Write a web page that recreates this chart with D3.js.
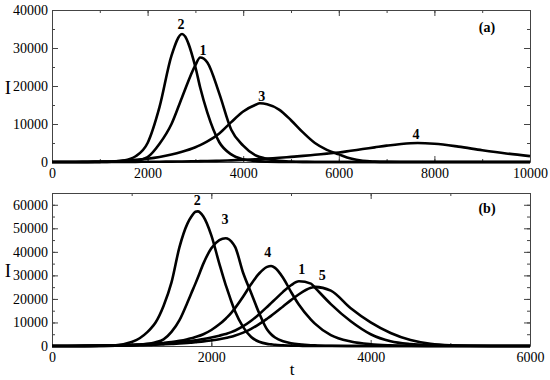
<!DOCTYPE html>
<html>
<head>
<meta charset="utf-8">
<script src="https://cdn.jsdelivr.net/npm/d3@7"></script>
<style>
  body { margin: 0; background: #fff; }
  .frame path.domain { stroke: #444; }
  .tick line { stroke: #444; }
</style>
</head>
<body>
<div id="chart"></div>
<script>
const serif = "Liberation Serif";

// panel (a): time samples and curves
const tA = [0, 250, 500, 750, 1000, 1250, 1500, 1750, 2000, 2250, 2500, 2720, 3000, 3100, 3250, 3500, 3750, 4000, 4250, 4350, 4500, 4750, 5000, 5250, 5500, 5750, 6000, 6250, 6500, 6750, 7000, 7500, 7650, 8000, 8500, 9000, 9500, 10000];
const a1 = [0, 0, 5, 12, 30, 60, 130, 350, 1300, 4800, 10000, 17000, 25500, 27500, 26200, 18000, 8500, 4300, 1800, 1300, 800, 300, 120, 40, 10, 0, 0, 0, 0, 0, 0, 0, 0, 0, 0, 0, 0, 0];
const a2 = [0, 0, 5, 15, 40, 120, 400, 1500, 5000, 14500, 28000, 33700, 25000, 19600, 13000, 5200, 2000, 700, 250, 170, 100, 30, 10, 0, 0, 0, 0, 0, 0, 0, 0, 0, 0, 0, 0, 0, 0, 0];
const a3 = [0, 5, 15, 40, 80, 150, 350, 550, 850, 1300, 1950, 2700, 3900, 4450, 5400, 7500, 10500, 13300, 15000, 15450, 15200, 13800, 11000, 7800, 5000, 3200, 2000, 900, 300, 100, 30, 0, 0, 0, 0, 0, 0, 0];
const a4 = [0, 0, 0, 5, 10, 15, 25, 40, 60, 80, 110, 140, 200, 230, 260, 330, 430, 550, 700, 760, 900, 1100, 1350, 1600, 1900, 2200, 2500, 2950, 3400, 3850, 4300, 4950, 5000, 4800, 4050, 3100, 2250, 1550];
const seriesA = [a1, a2, a3, a4];
const labelsA = [
  { name: "2", t: 2700, v: 36300 },
  { name: "1", t: 3160, v: 29500 },
  { name: "3", t: 4390, v: 17400 },
  { name: "4", t: 7615, v: 7400 }
];

// panel (b)
const tB = [0, 200, 400, 600, 800, 1000, 1100, 1200, 1250, 1300, 1400, 1500, 1600, 1700, 1750, 1800, 1830, 1900, 2000, 2100, 2180, 2200, 2250, 2300, 2400, 2500, 2600, 2700, 2750, 2800, 2900, 3000, 3100, 3250, 3300, 3500, 3750, 4000, 4250, 4500, 4750, 5000, 5500, 6000];
const b1 = [0, 15, 40, 90, 180, 420, 540, 680, 760, 850, 1050, 1300, 1600, 1950, 2150, 2400, 2550, 2950, 3600, 4400, 5100, 5300, 5900, 6600, 8400, 10700, 13500, 16600, 18200, 19800, 23000, 25800, 27500, 26500, 24800, 17800, 10500, 5000, 2000, 800, 300, 100, 0, 0];
const b2 = [0, 10, 40, 120, 350, 1700, 3300, 6000, 7800, 10000, 17000, 27000, 42000, 52000, 55000, 57000, 57200, 55000, 47000, 35000, 26000, 24000, 19000, 14500, 8000, 3800, 1800, 900, 700, 500, 300, 150, 80, 30, 20, 0, 0, 0, 0, 0, 0, 0, 0, 0];
const b3 = [0, 5, 20, 60, 120, 300, 500, 900, 1200, 1600, 2800, 6000, 11000, 18500, 22500, 26500, 29000, 35000, 41500, 45000, 45800, 45700, 44500, 42000, 31000, 22500, 14000, 7000, 5000, 3600, 2000, 1200, 700, 300, 250, 80, 20, 0, 0, 0, 0, 0, 0, 0];
const b4 = [0, 20, 60, 150, 300, 500, 650, 820, 920, 1030, 1300, 1650, 2200, 2900, 3300, 3800, 4100, 5000, 6800, 9200, 11600, 12250, 14100, 16200, 21000, 26300, 30800, 33600, 34000, 33200, 29000, 23000, 17500, 11200, 9500, 4600, 1900, 750, 300, 100, 40, 10, 0, 0];
const b5 = [0, 10, 30, 70, 140, 250, 330, 420, 480, 540, 680, 850, 1050, 1300, 1450, 1600, 1700, 1950, 2400, 2900, 3400, 3550, 3950, 4450, 5700, 7300, 9300, 11600, 12800, 14100, 16800, 19500, 22000, 24700, 25100, 23500, 16000, 10000, 5500, 2500, 900, 300, 30, 0];
const seriesB = [b1, b2, b3, b4, b5];
const labelsB = [
  { name: "2", t: 1824, v: 61800 },
  { name: "3", t: 2171, v: 54000 },
  { name: "4", t: 2707, v: 39700 },
  { name: "1", t: 3134, v: 32600 },
  { name: "5", t: 3393, v: 30200 }
];

const width = 550, height = 380;
const left = 52, right = 530;

const svg = d3.select("#chart")
  .append("svg")
  .attr("width", width)
  .attr("height", height)
  .attr("font-family", serif);

function drawPanel(cfg) {
  const innerW = right - left;
  const innerH = cfg.bottom - cfg.top;
  const g = svg.append("g")
    .attr("transform", `translate(${left},${cfg.top})`);

  const x = d3.scaleLinear().domain([0, cfg.xMax]).range([0, innerW]);
  const y = d3.scaleLinear().domain([0, cfg.yMax]).range([innerH, 0]);

  // minor ticks (inward) on all four sides
  const xMinor = d3.range(0, cfg.xMax + 1, cfg.xMinor);
  const yMinor = d3.range(0, cfg.yMax + 1, cfg.yMinor);
  g.append("g").attr("transform", `translate(0,${innerH})`)
    .call(d3.axisBottom(x).tickValues(xMinor).tickSize(-3).tickFormat(""))
    .call(s => s.select(".domain").remove());
  g.append("g")
    .call(d3.axisTop(x).tickValues(xMinor).tickSize(-3).tickFormat(""))
    .call(s => s.select(".domain").remove());
  g.append("g")
    .call(d3.axisLeft(y).tickValues(yMinor).tickSize(-3).tickFormat(""))
    .call(s => s.select(".domain").remove());
  g.append("g").attr("transform", `translate(${innerW},0)`)
    .call(d3.axisRight(y).tickValues(yMinor).tickSize(-3).tickFormat(""))
    .call(s => s.select(".domain").remove());

  // major ticks with labels
  const xMajor = d3.range(0, cfg.xMax + 1, cfg.xStep);
  const yMajor = d3.range(0, cfg.yMax + 1, cfg.yStep);
  g.append("g").attr("class", "frame")
    .attr("transform", `translate(0,${innerH})`)
    .call(d3.axisBottom(x).tickValues(xMajor).tickSizeInner(-6).tickSizeOuter(0).tickPadding(6).tickFormat(d3.format("d")));
  g.append("g").attr("class", "frame")
    .call(d3.axisTop(x).tickValues(xMajor).tickSizeInner(-6).tickSizeOuter(0).tickFormat(""));
  g.append("g").attr("class", "frame")
    .call(d3.axisLeft(y).tickValues(yMajor).tickSizeInner(-6).tickSizeOuter(0).tickPadding(4).tickFormat(d3.format("d")));
  g.append("g").attr("class", "frame")
    .attr("transform", `translate(${innerW},0)`)
    .call(d3.axisRight(y).tickValues(yMajor).tickSizeInner(-6).tickSizeOuter(0).tickFormat(""));

  // serif tick labels like the original
  g.selectAll("g")
    .attr("font-family", null)
    .attr("font-size", null);
  g.selectAll(".tick text")
    .attr("fill", "#000")
    .attr("font-family", serif)
    .attr("font-size", 14);

  // curves
  const line = d3.line()
    .x((d, i) => x(cfg.t[i]))
    .y(d => y(d))
    .curve(d3.curveMonotoneX);

  g.selectAll("path.curve")
    .data(cfg.series)
    .join("path")
      .attr("class", "curve")
      .attr("d", line)
      .attr("fill", "none")
      .attr("stroke", "#000")
      .attr("stroke-width", 2.6);

  // curve numbers
  g.selectAll("text.num")
    .data(cfg.labels)
    .join("text")
      .attr("class", "num")
      .attr("x", d => x(d.t))
      .attr("y", d => y(d.v))
      .attr("dy", "0.35em")
      .attr("text-anchor", "middle")
      .attr("font-weight", "bold")
      .attr("font-size", 14)
      .text(d => d.name);

  // panel tag
  g.append("text")
    .attr("x", innerW - 43)
    .attr("y", cfg.tagY)
    .attr("dy", "0.35em")
    .attr("text-anchor", "middle")
    .attr("font-weight", "bold")
    .attr("font-size", 14)
    .text(cfg.tag);

  // y-axis label
  svg.append("text")
    .attr("x", 8)
    .attr("y", cfg.top + cfg.labelY)
    .attr("dy", "0.35em")
    .attr("text-anchor", "middle")
    .attr("font-size", 19)
    .text("I");
}

drawPanel({
  top: 10, bottom: 162,
  t: tA, series: seriesA, labels: labelsA,
  xMax: 10000, xStep: 2000, xMinor: 1000,
  yMax: 40000, yStep: 10000, yMinor: 5000,
  tag: "(a)", tagY: 17, labelY: 77
});

drawPanel({
  top: 193, bottom: 346,
  t: tB, series: seriesB, labels: labelsB,
  xMax: 6000, xStep: 2000, xMinor: 1000,
  yMax: 65000, yStep: 10000, yMinor: 5000,
  tag: "(b)", tagY: 15, labelY: 77
});

// x-axis label
svg.append("text")
  .attr("x", 292)
  .attr("y", 369)
  .attr("dy", "0.35em")
  .attr("text-anchor", "middle")
  .attr("font-size", 17)
  .text("t");
</script>
</body>
</html>
